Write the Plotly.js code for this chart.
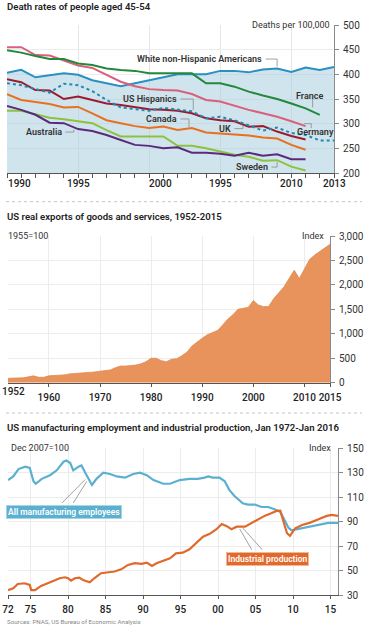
<!DOCTYPE html>
<html>
<head>
<meta charset="utf-8">
<script src="https://cdn.plot.ly/plotly-3.0.1.min.js"></script>
<style>html,body{margin:0;padding:0;background:#fff;}#chart{width:367px;height:632px;}</style>
</head>
<body>
<div id="chart"></div>
<script>
// ---------- Panel 1: death rates, ages 45-54 ----------
const yearsA = [1990,1991,1992,1993,1994,1995,1996,1997,1998,1999,2000,2001,2002,2003,2004,2005,2006,2007,2008,2009,2010,2011,2012,2013];
const usWhite   = [403,409,394,398,402,399,388,382,376,382,388,395,400,400,400,407,407,404,410,412,405,414,409,415];
const usHispanic= [382,378,370,363,381,378,366,348,333,329,326,332,328,325,311,314,307,297,286,292,281,277,266,266];
const france    = [449,444,437,431,431,422,419,412,409,407,402,402,402,402,382,382,375,365,357,350,341,331,318];
const germany   = [455,455,439,438,428,418,413,399,385,376,370,368,367,360,348,345,336,328,321,314,305,295];
const uk        = [390,384,368,367,350,355,348,341,338,333,329,328,326,321,311,307,305,294,295,284,275,268];
const canada    = [360,348,344,340,333,334,321,307,301,295,291,294,287,291,282,280,279,276,272,270,257,247];
const australia = [336,328,318,302,301,289,285,277,267,257,255,250,252,241,241,239,235,241,235,238,228,228];
const sweden    = [326,326,319,312,309,305,301,287,274,274,274,274,255,255,250,243,237,233,225,226,213,205];
const deathTicks = [200,250,300,350,400,450,500];

// ---------- Panel 2: US real exports ----------
const yearsB = [1952,1953,1954,1955,1956,1957,1958,1959,1960,1961,1962,1963,1964,1965,1966,1967,1968,1969,1970,1971,1972,1973,1974,1975,1976,1977,1978,1979,1980,1981,1982,1983,1984,1985,1986,1987,1988,1989,1990,1991,1992,1993,1994,1995,1996,1997,1998,1999,2000,2001,2002,2003,2004,2005,2006,2007,2008,2009,2010,2011,2012,2013,2014,2015];
const exportsIdx = [89,89,95,100,120,140,110,110,140,145,150,160,180,185,200,205,215,220,235,245,260,305,340,340,350,360,385,430,500,500,450,430,480,490,550,625,750,840,910,980,1030,1070,1180,1300,1390,1500,1520,1540,1680,1590,1555,1560,1720,1830,1960,2130,2300,2130,2340,2520,2610,2680,2760,2830];
const exportTicks = [0,500,1000,1500,2000,2500,3000];
const exportXTicks = [1960,1970,1980,1990,2000,2010,2015];
const exportXLabels = ['1960','1970','1980','1990','2000','2010','2015'];

// ---------- Panel 3: manufacturing employment & industrial production ----------
const empT = [1972.0,1972.7,1973.4,1974.3,1974.9,1975.4,1975.7,1976.5,1977.6,1978.5,1979.4,1979.8,1980.3,1980.7,1981.4,1981.8,1982.3,1983.2,1983.8,1984.7,1985.6,1986.5,1987.6,1988.7,1989.6,1990.5,1991.4,1992.7,1993.6,1994.9,1996.2,1997.3,1998.2,1998.7,1999.3,2000.2,2000.9,2001.5,2002.2,2003.3,2004.0,2004.9,2005.8,2006.7,2007.6,2008.3,2008.9,2009.4,2009.8,2010.7,2012.0,2013.3,2014.7,2016.0];
const employment = [124,127,133,135,134,123,121,125,128,132,139,140,138,132,135,136,130,120,125,130,129,127,126,129,130,128,124,121,121,124,125,125,126,127,126,126,123,116,111,105,104,104,102,102,100,98,91,85,83,84,86,87,89,89];
const prodT = [1972.0,1972.7,1973.3,1974.2,1974.9,1975.1,1975.6,1976.4,1977.3,1978.0,1978.9,1979.6,1980.0,1980.4,1980.9,1981.5,1982.0,1982.9,1983.5,1984.4,1985.3,1986.2,1987.1,1988.0,1988.9,1989.8,1990.5,1991.2,1991.8,1992.7,1993.6,1994.4,1995.3,1996.2,1997.1,1998.0,1998.9,1999.8,2000.5,2001.1,2001.8,2002.5,2003.6,2004.4,2005.3,2006.2,2007.1,2007.8,2008.3,2008.7,2009.2,2009.6,2010.3,2011.2,2012.3,2013.4,2014.5,2015.2,2016.0];
const production = [34,35.5,39,39.6,38.2,34,34,37.4,39.6,41.5,43.7,44.5,43.7,41.7,43.7,44.2,42.3,40.4,43.7,47.8,48.6,49.2,51,54.6,56,55.5,56.5,53.7,56,58,60,64.1,64.6,67.4,72.3,77.7,80,83.8,88.1,86.5,83.8,85.9,85.9,88.7,92,94.7,96.9,98.8,99,90,80.5,78.3,84.6,87.3,89.2,92,94.7,95.5,94.7];
const mfgTicks = [30,50,70,90,110,130,150];
const mfgXTicks = [1972,1975,1980,1985,1990,1995,2000,2005,2010,2015];
const mfgXLabels = ['72','75','80','85','90','95','00','05','10','15'];

// ---------- layout helpers (pixel -> paper) ----------
const W = 367, H = 632;
const px = x => x / W;
const py = y => (H - y) / H;
const FONT = 'Roboto, sans-serif';
const tickFont = {family: FONT, size: 10, color: '#333'};
const xTickFont = {family: FONT, size: 10, color: '#222', weight: 500};

const lineTrace = (x, y, color, name, extra) => Object.assign({
  type: 'scatter', mode: 'lines', x: x, y: y, name: name,
  line: {color: color, width: 2}, xaxis: 'x', yaxis: 'y', hoverinfo: 'skip'
}, extra || {});

const traces = [
  lineTrace(yearsA, usWhite, '#2a8fc1', 'White non-Hispanic Americans', {fill: 'tozeroy', fillcolor: 'rgba(170,205,222,0.55)'}),
  lineTrace(yearsA.slice(0, sweden.length), sweden, '#8cc23f', 'Sweden'),
  lineTrace(yearsA.slice(0, australia.length), australia, '#5b2a7c', 'Australia'),
  lineTrace(yearsA.slice(0, canada.length), canada, '#e8701f', 'Canada'),
  lineTrace(yearsA.slice(0, uk.length), uk, '#9c1b2f', 'UK'),
  lineTrace(yearsA, usHispanic, '#1d8ab3', 'US Hispanics', {line: {color: '#1d8ab3', width: 2, dash: 'dot'}}),
  lineTrace(yearsA.slice(0, germany.length), germany, '#d9607c', 'Germany'),
  lineTrace(yearsA.slice(0, france.length), france, '#22893c', 'France'),
  {type: 'scatter', mode: 'lines', x: yearsB, y: exportsIdx, fill: 'tozeroy',
   fillcolor: '#e8935b', line: {color: '#e08a50', width: 0.8}, xaxis: 'x2', yaxis: 'y2', hoverinfo: 'skip'},
  {type: 'scatter', mode: 'lines', x: empT, y: employment, line: {color: '#5bb0cf', width: 2.2},
   xaxis: 'x3', yaxis: 'y3', hoverinfo: 'skip'},
  {type: 'scatter', mode: 'lines', x: prodT, y: production, line: {color: '#e0692b', width: 2.2},
   xaxis: 'x3', yaxis: 'y3', hoverinfo: 'skip'}
];

const yRight = (domain, range, tickvals, extra) => Object.assign({
  domain: domain, range: range, tickvals: tickvals, side: 'right', showline: true,
  linecolor: '#8a8a8a', linewidth: 1, ticks: 'outside', ticklen: 4, tickcolor: '#8a8a8a',
  tickfont: tickFont, showgrid: true, gridcolor: '#ececec', gridwidth: 1, zeroline: false,
  fixedrange: true, ticklabelstandoff: 2
}, extra || {});

const layout = {
  width: W, height: H, margin: {l: 0, r: 0, t: 0, b: 0},
  paper_bgcolor: '#fff', plot_bgcolor: '#fff', showlegend: false,
  font: {family: FONT, color: '#333'},
  xaxis: {domain: [px(7), px(334)], range: [1990, 2013], anchor: 'y',
    tickvals: [1995, 2000, 2005, 2010], showticklabels: false, ticks: '',
    showgrid: true, gridcolor: '#e6e6e6', showline: true, linecolor: '#555', linewidth: 1,
    zeroline: false, fixedrange: true,
    minor: {tickmode: 'linear', tick0: 1990, dtick: 1, ticks: 'outside', ticklen: 4, tickcolor: '#555', showgrid: false}},
  yaxis: yRight([py(173), py(25)], [200, 500], deathTicks, {anchor: 'x'}),
  xaxis2: {domain: [px(8), px(330)], range: [1952, 2015], anchor: 'y2',
    tickvals: exportXTicks, ticktext: exportXLabels, tickfont: xTickFont, ticks: 'outside', ticklen: 3,
    tickcolor: '#555', showgrid: true, gridcolor: '#ececec', showline: true, linecolor: '#555',
    zeroline: false, fixedrange: true, ticklabelstandoff: 2},
  yaxis2: yRight([py(382.7), py(236)], [0, 3000], exportTicks, {anchor: 'x2', tickformat: ','}),
  xaxis3: {domain: [px(8), px(338)], range: [1972, 2016], anchor: 'y3',
    tickvals: mfgXTicks, ticktext: mfgXLabels, tickfont: xTickFont, ticks: 'outside', ticklen: 3,
    tickcolor: '#555', showgrid: true, gridcolor: '#ececec', showline: true, linecolor: '#555',
    zeroline: false, fixedrange: true, ticklabelstandoff: 2},
  yaxis3: yRight([py(595), py(448.3)], [30, 150], mfgTicks, {anchor: 'x3'}),
  shapes: [],
  annotations: []
};

const A = layout.annotations, S = layout.shapes;
function txt(text, x, y, opts) {
  A.push(Object.assign({text: text, x: x, y: y, xref: 'paper', yref: 'paper', showarrow: false,
    xanchor: 'left', yanchor: 'middle', font: {family: FONT, size: 9, color: '#333'}}, opts || {}));
}
// titles
const titleFont = {family: FONT, size: 9.6, color: '#222', weight: 600};
txt('Death rates of people aged 45-54', px(5), py(7), {font: titleFont});
txt('US real exports of goods and services, 1952-2015', px(5), py(216), {font: titleFont});
txt('US manufacturing employment and industrial production, Jan 1972-Jan 2016', px(5), py(427), {font: titleFont});
txt('Sources: PNAS, US Bureau of Economic Analysis', px(5), py(622), {font: {family: FONT, size: 6.2, color: '#888'}});

// unit labels
const unitFont = {family: FONT, size: 9, color: '#333'};
txt('Deaths per 100,000', px(332), py(25), {xanchor: 'right', font: unitFont});
txt('1955=100', px(6), py(236), {font: unitFont});
txt('Index', px(326), py(236), {xanchor: 'right', font: unitFont});
txt('Dec 2007=100', px(9), py(448), {font: unitFont});
txt('Index', px(333), py(448), {xanchor: 'right', font: unitFont});

// panel 1 x tick labels (custom placement)
const p1Labels = [['1990', 1990.9], ['1995', 1995], ['2000', 2000.8], ['1995', 2005], ['2010', 2010], ['2013', 2013]];
p1Labels.forEach(([t, x]) => A.push({text: t, x: x, xref: 'x', y: py(183), yref: 'paper', showarrow: false,
  xanchor: 'center', yanchor: 'middle', font: xTickFont}));
A.push({text: '1952', x: 1953, xref: 'x2', y: py(391), yref: 'paper', showarrow: false,
  xanchor: 'center', yanchor: 'middle', font: xTickFont});

// panel 1 series labels with leader lines
const labFont = {family: FONT, size: 9, color: '#333', weight: 600};
function lab(text, x, y, anchor) {
  A.push({text: text, x: x, y: y, xref: 'x', yref: 'y', showarrow: false, xanchor: anchor || 'left',
    yanchor: 'middle', font: labFont});
}
function leader(pts, xr, yr) {
  let d = 'M ' + pts.map(p => p[0] + ',' + p[1]).join(' L ');
  S.push({type: 'path', path: d, xref: xr || 'x', yref: yr || 'y', line: {color: '#8a8a8a', width: 0.8}});
}
lab('White non-Hispanic Americans', 2008.1, 431, 'right');
leader([[2008.2, 431], [2009.0, 431], [2009.0, 416]]);
lab('France', 2011.3, 357, 'center');
leader([[2011.5, 351], [2011.5, 333]]);
lab('US Hispanics', 2002.1, 350, 'right');
leader([[2002.2, 350], [2003.1, 350], [2003.1, 328]]);
lab('Canada', 2002.1, 309.5, 'right');
leader([[2002.2, 309.5], [2002.8, 309.5], [2002.8, 293]]);
lab('UK', 2005.9, 290, 'right');
leader([[2006.0, 290], [2006.6, 290], [2006.6, 297]]);
lab('Germany', 2011.7, 284, 'center');
leader([[2010.9, 300], [2011.4, 300], [2011.4, 291]]);
lab('Australia', 1994.0, 283, 'right');
leader([[1994.1, 283], [1994.7, 283], [1994.7, 288]]);
lab('Sweden', 2008.5, 212, 'right');
leader([[2008.6, 212], [2009.0, 212], [2009.0, 223]]);

// panel 3 boxed labels
A.push({text: 'All manufacturing employees', x: 1979.4, y: 98.3, xref: 'x3', yref: 'y3', showarrow: false,
  xanchor: 'center', yanchor: 'middle', bgcolor: '#5bb0cf', bordercolor: '#a9d6e7', borderwidth: 1, borderpad: 1,
  font: {family: FONT, size: 8.5, color: '#fff', weight: 600}});
A.push({text: 'Industrial production', x: 2006.6, y: 59.5, xref: 'x3', yref: 'y3', showarrow: false,
  xanchor: 'center', yanchor: 'middle', bgcolor: '#e0692b', bordercolor: '#f0b895', borderwidth: 1, borderpad: 1,
  font: {family: FONT, size: 8.5, color: '#fff', weight: 600}});
leader([[1979.2, 105.3], [1982.3, 124.5]], 'x3', 'y3');
leader([[1980.7, 105.3], [1982.5, 123]], 'x3', 'y3');
leader([[2004.5, 67], [2002.9, 84]], 'x3', 'y3');
leader([[2005.9, 67], [2003.3, 84.8]], 'x3', 'y3');

// dotted separators
[201.7, 413].forEach(y => S.push({type: 'line', xref: 'paper', yref: 'paper', x0: px(6), x1: px(362),
  y0: py(y), y1: py(y), line: {color: '#c4c4c4', width: 1, dash: 'dot'}}));

Plotly.newPlot('chart', traces, layout, {staticPlot: true, displayModeBar: false});
</script>
</body>
</html>
